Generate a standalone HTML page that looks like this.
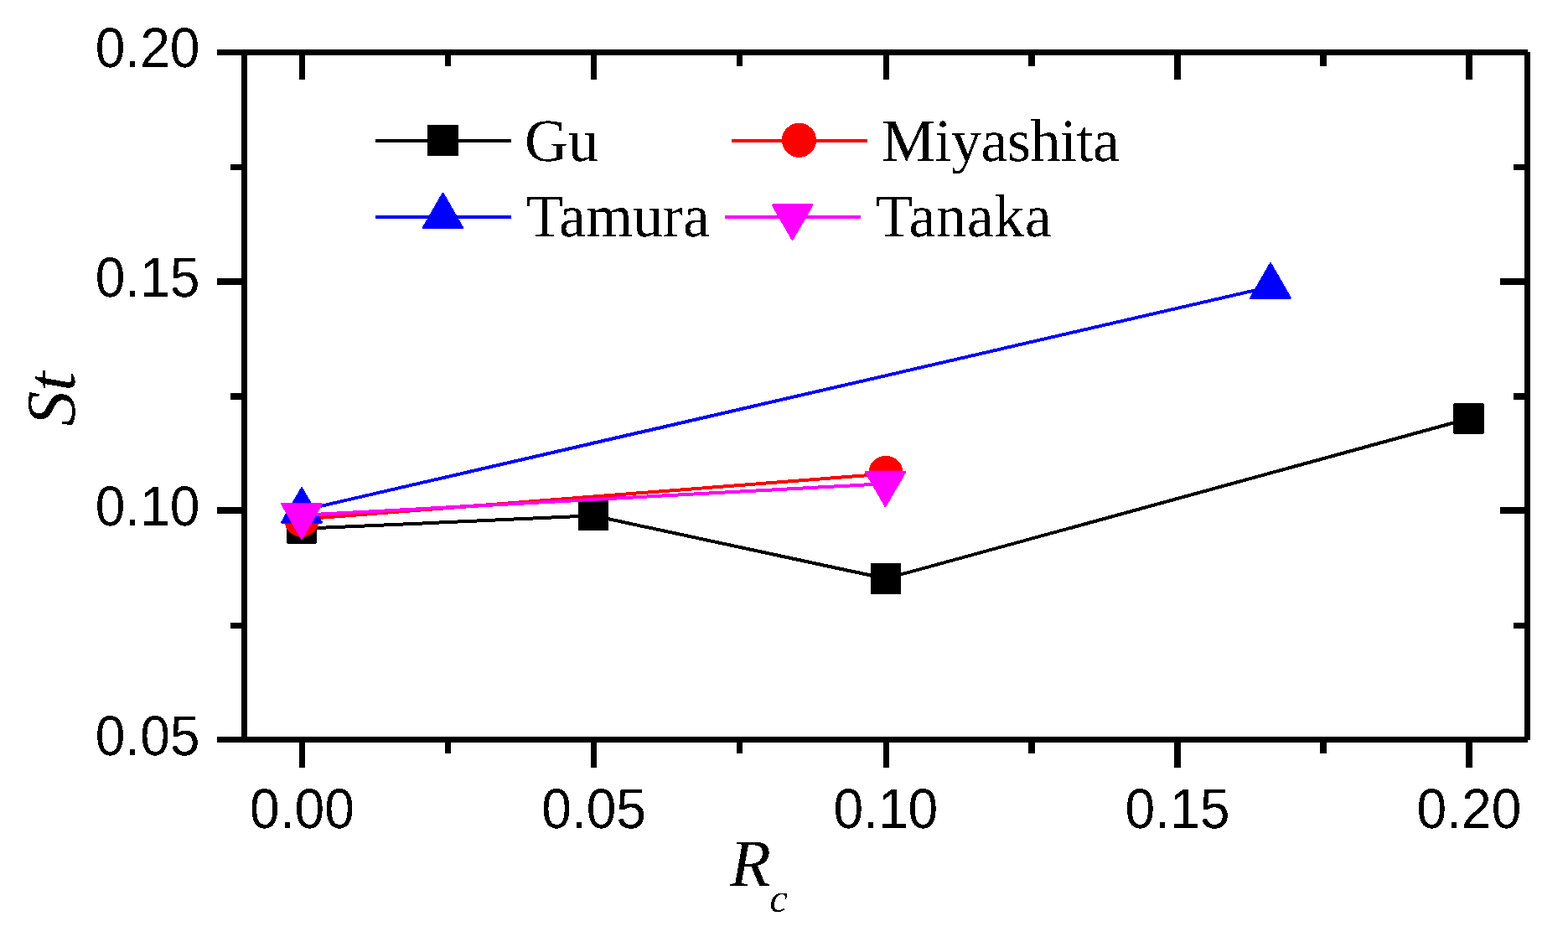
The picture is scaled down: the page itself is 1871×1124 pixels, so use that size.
<!DOCTYPE html>
<html><head><meta charset="utf-8"><title>St vs Rc</title>
<style>html,body{margin:0;padding:0;background:#fff;overflow:hidden;}svg{display:block;}</style></head>
<body>
<svg width="1871" height="1124" viewBox="0 0 1871 1124" text-rendering="geometricPrecision">
<defs><filter id="bin" x="0" y="0" width="1871" height="1124" filterUnits="userSpaceOnUse" color-interpolation-filters="sRGB"><feComponentTransfer><feFuncA type="discrete" tableValues="0 1"/></feComponentTransfer></filter></defs>
<rect width="1871" height="1124" fill="#fff"/>
<g filter="url(#bin)">
<g shape-rendering="crispEdges">
<rect x="288.00" y="59.00" width="7.00" height="827.00" fill="#000"/>
<rect x="288.00" y="879.00" width="1535.00" height="7.00" fill="#000"/>
<rect x="288.00" y="59.00" width="1535.00" height="7.00" fill="#000"/>
<rect x="1819.00" y="62.00" width="7.00" height="821.00" fill="#000"/>
<rect x="259.00" y="59.00" width="29.00" height="7.00" fill="#000"/>
<rect x="1790.00" y="59.00" width="29.00" height="7.00" fill="#000"/>
<rect x="275.00" y="196.00" width="13.00" height="7.00" fill="#000"/>
<rect x="1806.00" y="196.00" width="13.00" height="7.00" fill="#000"/>
<rect x="259.00" y="332.00" width="29.00" height="8.00" fill="#000"/>
<rect x="1790.00" y="332.00" width="29.00" height="8.00" fill="#000"/>
<rect x="275.00" y="469.00" width="13.00" height="8.00" fill="#000"/>
<rect x="1806.00" y="469.00" width="13.00" height="8.00" fill="#000"/>
<rect x="259.00" y="605.00" width="29.00" height="8.00" fill="#000"/>
<rect x="1790.00" y="605.00" width="29.00" height="8.00" fill="#000"/>
<rect x="275.00" y="743.00" width="13.00" height="7.00" fill="#000"/>
<rect x="1806.00" y="743.00" width="13.00" height="7.00" fill="#000"/>
<rect x="259.00" y="879.00" width="29.00" height="7.00" fill="#000"/>
<rect x="1790.00" y="879.00" width="29.00" height="7.00" fill="#000"/>
<rect x="357.00" y="886.00" width="7.00" height="30.00" fill="#000"/>
<rect x="357.00" y="66.00" width="7.00" height="29.00" fill="#000"/>
<rect x="531.00" y="886.00" width="7.00" height="13.00" fill="#000"/>
<rect x="531.00" y="66.00" width="7.00" height="13.00" fill="#000"/>
<rect x="705.00" y="886.00" width="7.00" height="30.00" fill="#000"/>
<rect x="705.00" y="66.00" width="7.00" height="29.00" fill="#000"/>
<rect x="879.00" y="886.00" width="7.00" height="13.00" fill="#000"/>
<rect x="879.00" y="66.00" width="7.00" height="13.00" fill="#000"/>
<rect x="1054.00" y="886.00" width="7.00" height="30.00" fill="#000"/>
<rect x="1054.00" y="66.00" width="7.00" height="29.00" fill="#000"/>
<rect x="1227.00" y="886.00" width="8.00" height="13.00" fill="#000"/>
<rect x="1227.00" y="66.00" width="8.00" height="13.00" fill="#000"/>
<rect x="1401.00" y="886.00" width="8.00" height="30.00" fill="#000"/>
<rect x="1401.00" y="66.00" width="8.00" height="29.00" fill="#000"/>
<rect x="1575.00" y="886.00" width="8.00" height="13.00" fill="#000"/>
<rect x="1575.00" y="66.00" width="8.00" height="13.00" fill="#000"/>
<rect x="1749.00" y="886.00" width="8.00" height="30.00" fill="#000"/>
<rect x="1749.00" y="66.00" width="8.00" height="29.00" fill="#000"/>
</g>
<polyline points="360.00,630.80 708.00,615.30 1057.00,690.40 1752.50,499.50" fill="none" stroke="#000000" stroke-width="4" stroke-linejoin="round"/>
<rect x="342.75" y="613.05" width="34.50" height="34.50" fill="#000000" stroke="#000000" stroke-width="2.0" stroke-linejoin="round"/>
<rect x="690.75" y="597.75" width="34.50" height="34.50" fill="#000000" stroke="#000000" stroke-width="2.0" stroke-linejoin="round"/>
<rect x="1039.75" y="673.15" width="34.50" height="34.50" fill="#000000" stroke="#000000" stroke-width="2.0" stroke-linejoin="round"/>
<rect x="1735.25" y="482.25" width="34.50" height="34.50" fill="#000000" stroke="#000000" stroke-width="2.0" stroke-linejoin="round"/>
<polyline points="360.00,619.60 1057.00,565.40" fill="none" stroke="#ff0000" stroke-width="4" stroke-linejoin="round"/>
<circle cx="360.00" cy="620.20" r="19.60" fill="#ff0000" stroke="#ff0000" stroke-width="2.0" stroke-linejoin="round"/>
<circle cx="1057.00" cy="564.30" r="19.60" fill="#ff0000" stroke="#ff0000" stroke-width="2.0" stroke-linejoin="round"/>
<polyline points="360.00,609.10 1516.00,342.10" fill="none" stroke="#0000ff" stroke-width="4" stroke-linejoin="round"/>
<polygon points="360.00,581.89 384.00,623.46 336.00,623.46" fill="#0000ff" stroke="#0000ff" stroke-width="2.0" stroke-linejoin="round"/>
<polygon points="1516.00,314.09 1540.00,355.66 1492.00,355.66" fill="#0000ff" stroke="#0000ff" stroke-width="2.0" stroke-linejoin="round"/>
<polyline points="360.00,614.80 1056.50,577.20" fill="none" stroke="#ff00ff" stroke-width="4" stroke-linejoin="round"/>
<polygon points="360.00,642.91 384.00,601.34 336.00,601.34" fill="#ff00ff" stroke="#ff00ff" stroke-width="2.0" stroke-linejoin="round"/>
<polygon points="1056.50,604.21 1080.50,562.64 1032.50,562.64" fill="#ff00ff" stroke="#ff00ff" stroke-width="2.0" stroke-linejoin="round"/>
<rect x="448" y="166.0" width="162" height="4" fill="#000000"/>
<rect x="511.00" y="150.00" width="35.00" height="35.00" fill="#000000" stroke="#000000" stroke-width="2.0" stroke-linejoin="round"/>
<text x="626" y="192" font-size="72" font-family='"Liberation Serif", "Times New Roman", Times, serif'>Gu</text>
<rect x="448" y="257.0" width="162" height="4" fill="#0000ff"/>
<polygon points="528.50,230.59 552.50,272.16 504.50,272.16" fill="#0000ff" stroke="#0000ff" stroke-width="2.0" stroke-linejoin="round"/>
<text x="628" y="282" font-size="72" font-family='"Liberation Serif", "Times New Roman", Times, serif'>Tamura</text>
<rect x="873" y="166.0" width="162" height="4" fill="#ff0000"/>
<circle cx="953.50" cy="167.30" r="19.60" fill="#ff0000" stroke="#ff0000" stroke-width="2.0" stroke-linejoin="round"/>
<text x="1052" y="192" font-size="72" textLength="284" lengthAdjust="spacing" font-family='"Liberation Serif", "Times New Roman", Times, serif'>Miyashita</text>
<rect x="865" y="257.0" width="162" height="4" fill="#ff00ff"/>
<polygon points="945.50,286.01 969.50,244.44 921.50,244.44" fill="#ff00ff" stroke="#ff00ff" stroke-width="2.0" stroke-linejoin="round"/>
<text x="1045" y="282" font-size="72" textLength="209.8" lengthAdjust="spacing" font-family='"Liberation Serif", "Times New Roman", Times, serif'>Tanaka</text>
<text transform="translate(238.5,80) scale(0.95,1)" text-anchor="end" font-size="67.5" font-family='"Liberation Sans", Arial, Helvetica, sans-serif'>0.20</text>
<text transform="translate(238.5,354) scale(0.95,1)" text-anchor="end" font-size="67.5" font-family='"Liberation Sans", Arial, Helvetica, sans-serif'>0.15</text>
<text transform="translate(238.5,627) scale(0.95,1)" text-anchor="end" font-size="67.5" font-family='"Liberation Sans", Arial, Helvetica, sans-serif'>0.10</text>
<text transform="translate(238.5,901) scale(0.95,1)" text-anchor="end" font-size="67.5" font-family='"Liberation Sans", Arial, Helvetica, sans-serif'>0.05</text>
<text transform="translate(360.5,988) scale(0.95,1)" text-anchor="middle" font-size="67.5" font-family='"Liberation Sans", Arial, Helvetica, sans-serif'>0.00</text>
<text transform="translate(708.6,988) scale(0.95,1)" text-anchor="middle" font-size="67.5" font-family='"Liberation Sans", Arial, Helvetica, sans-serif'>0.05</text>
<text transform="translate(1056.8,988) scale(0.95,1)" text-anchor="middle" font-size="67.5" font-family='"Liberation Sans", Arial, Helvetica, sans-serif'>0.10</text>
<text transform="translate(1404.9,988) scale(0.95,1)" text-anchor="middle" font-size="67.5" font-family='"Liberation Sans", Arial, Helvetica, sans-serif'>0.15</text>
<text transform="translate(1753.0,988) scale(0.95,1)" text-anchor="middle" font-size="67.5" font-family='"Liberation Sans", Arial, Helvetica, sans-serif'>0.20</text>
<text transform="translate(89,508.5) rotate(-90)" font-size="83.5" font-style="italic" font-family='"Liberation Serif", "Times New Roman", Times, serif'>St</text>
<text x="871" y="1057" font-size="80" font-style="italic" font-family='"Liberation Serif", "Times New Roman", Times, serif'>R</text>
<text x="918.5" y="1088" font-size="48" font-style="italic" font-family='"Liberation Serif", "Times New Roman", Times, serif'>c</text>
</g>
</svg>
</body></html>
